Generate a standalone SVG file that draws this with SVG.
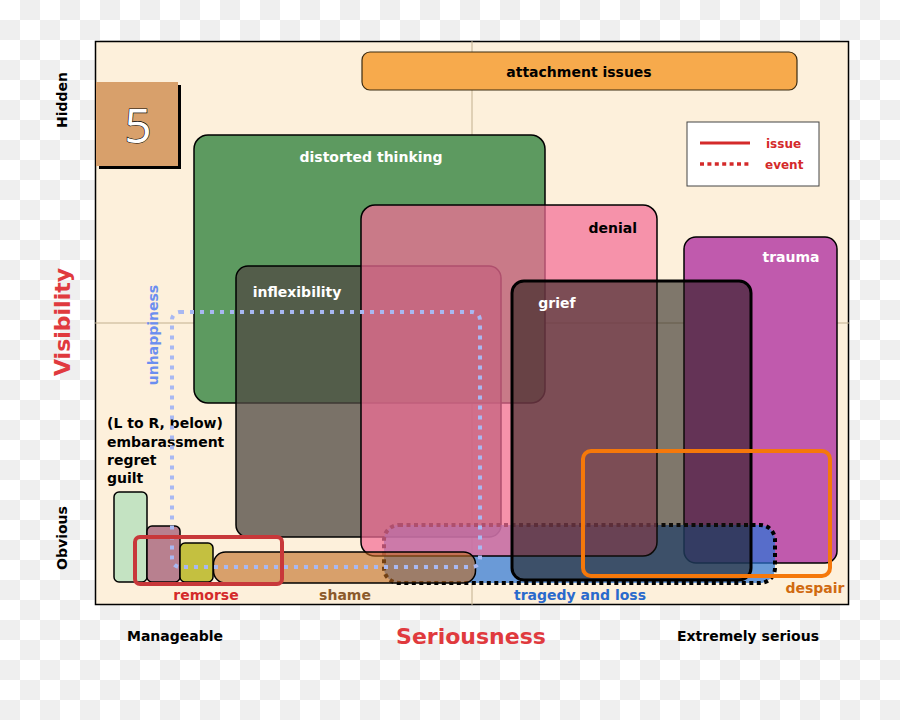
<svg xmlns="http://www.w3.org/2000/svg" width="900" height="720" viewBox="0 0 900 720">
<defs>
<pattern id="chk" width="40" height="40" patternUnits="userSpaceOnUse">
<rect width="40" height="40" fill="#ffffff"/>
<rect x="20" y="0" width="20" height="20" fill="#efefef"/>
<rect x="0" y="20" width="20" height="20" fill="#efefef"/>
</pattern>
</defs>
<style>
text{font-family:"DejaVu Sans","Liberation Sans",sans-serif;font-weight:bold;}
.lbl{font-size:14px;}
.ax{font-size:14px;fill:#000;}
.big{font-size:22px;fill:#e03a3e;}
.box{stroke:#000;stroke-width:1.5;}
.w{fill:#fff;}
.k{fill:#000;}
</style>
<rect width="900" height="720" fill="url(#chk)"/>
<g id="frame">
<rect x="95.5" y="41.5" width="753" height="563" fill="#fdf0db" stroke="#000" stroke-width="1.5"/>
<line x1="95" y1="323" x2="849" y2="323" stroke="#c2b08f" stroke-width="1"/>
<line x1="472" y1="41" x2="472" y2="605" stroke="#c2b08f" stroke-width="1"/>
</g>
<g id="badge">
<rect x="99" y="85" width="82" height="84" fill="#000"/>
<rect x="96" y="82" width="82" height="84" fill="#d8a06b"/>
<text x="138" y="143" text-anchor="middle" style="font-family:'Open Sans','DejaVu Sans',sans-serif;font-weight:normal;font-size:48px;fill:#fff;stroke:#000;stroke-width:1.2;paint-order:stroke"><tspan>5</tspan></text>
</g>
<g id="attachment">
<rect x="362" y="52" width="435" height="38" rx="8" fill="#f7aa4c" stroke="#3a2a10" stroke-width="1.2"/>
<text x="579" y="77" text-anchor="middle" class="lbl k">attachment issues</text>
</g>
<g id="legend">
<rect x="687" y="122" width="132" height="64" fill="#fff" stroke="#444" stroke-width="1"/>
<line x1="700" y1="143" x2="750" y2="143" stroke="#d42a2a" stroke-width="3"/>
<line x1="700" y1="164" x2="750" y2="164" stroke="#d42a2a" stroke-width="3.5" stroke-dasharray="4 3.4"/>
<text x="766" y="148" style="font-size:12px;fill:#d42a2a">issue</text>
<text x="765" y="169" style="font-size:12px;fill:#d42a2a">event</text>
</g>
<g id="distorted-thinking">
<rect x="194" y="135" width="351" height="268" rx="14" fill="#5d9a60" class="box"/>
<text x="371" y="162" text-anchor="middle" class="lbl w">distorted thinking</text>
</g>
<g id="inflexibility">
<rect x="236" y="266" width="265" height="271" rx="12" fill="#504a43" fill-opacity="0.76" class="box"/>
<text x="297" y="297" text-anchor="middle" class="lbl w">inflexibility</text>
</g>
<g id="trauma">
<rect x="684" y="237" width="153" height="326" rx="12" fill="#c05aad" class="box"/>
<text x="791" y="262" text-anchor="middle" class="lbl w">trauma</text>
</g>
<g id="tragedy-and-loss">
<rect x="384" y="525" width="391" height="58" rx="15" fill="#2b75d6" fill-opacity="0.7" stroke="#000" stroke-width="4" stroke-dasharray="4 3.5"/>
<text x="580" y="600" text-anchor="middle" class="lbl" style="fill:#2a6acc">tragedy and loss</text>
</g>
<g id="denial">
<rect x="361" y="205" width="296" height="351" rx="14" fill="#f26e97" fill-opacity="0.72" class="box"/>
<text x="637" y="233" text-anchor="end" class="lbl k">denial</text>
</g>
<g id="grief">
<rect x="512" y="281" width="239" height="299" rx="12" fill="#18140f" fill-opacity="0.55" stroke="#000" stroke-width="3"/>
<text x="557" y="308" text-anchor="middle" class="lbl w">grief</text>
</g>
<g id="shame">
<rect x="213.5" y="552" width="262" height="31" rx="12" fill="#c06b20" fill-opacity="0.6" class="box"/>
<text x="345" y="600" text-anchor="middle" class="lbl" style="fill:#8b5a2b">shame</text>
</g>
<g id="embarassment">
<rect x="114" y="492" width="33" height="90" rx="5" fill="#c4e3c2" class="box"/>
</g>
<g id="regret">
<rect x="147" y="526" width="33" height="56" rx="5" fill="#b8808f" class="box"/>
</g>
<g id="guilt">
<rect x="180" y="543" width="33" height="39" rx="5" fill="#c4c040" class="box"/>
</g>
<g id="small-labels">
<text x="107" y="428" class="lbl k">(L to R, below)</text>
<text x="107" y="447" class="lbl k">embarassment</text>
<text x="107" y="465" class="lbl k">regret</text>
<text x="107" y="483" class="lbl k">guilt</text>
</g>
<g id="unhappiness">
<rect x="172" y="312" width="308" height="255" rx="8" fill="none" stroke="#a8b8f2" stroke-width="4" stroke-dasharray="4 6"/>
<text transform="translate(158,335) rotate(-90)" text-anchor="middle" class="lbl" style="fill:#6b8ef0">unhappiness</text>
</g>
<g id="remorse">
<rect x="135" y="537" width="147" height="47" rx="5" fill="none" stroke="#c8383a" stroke-width="4"/>
<text x="206" y="600" text-anchor="middle" class="lbl" style="fill:#d42a2a">remorse</text>
</g>
<g id="despair">
<rect x="583" y="451" width="247" height="125" rx="8" fill="none" stroke="#f5780a" stroke-width="4"/>
<text x="815" y="593" text-anchor="middle" class="lbl" style="fill:#d06a10">despair</text>
</g>
<g id="axes">
<text transform="translate(67,100) rotate(-90)" text-anchor="middle" class="ax">Hidden</text>
<text transform="translate(67,538) rotate(-90)" text-anchor="middle" class="ax">Obvious</text>
<text transform="translate(70,322) rotate(-90)" text-anchor="middle" class="big">Visibility</text>
<text x="175" y="641" text-anchor="middle" class="ax">Manageable</text>
<text x="471" y="644" text-anchor="middle" class="big">Seriousness</text>
<text x="748" y="641" text-anchor="middle" class="ax">Extremely serious</text>
</g>
</svg>
